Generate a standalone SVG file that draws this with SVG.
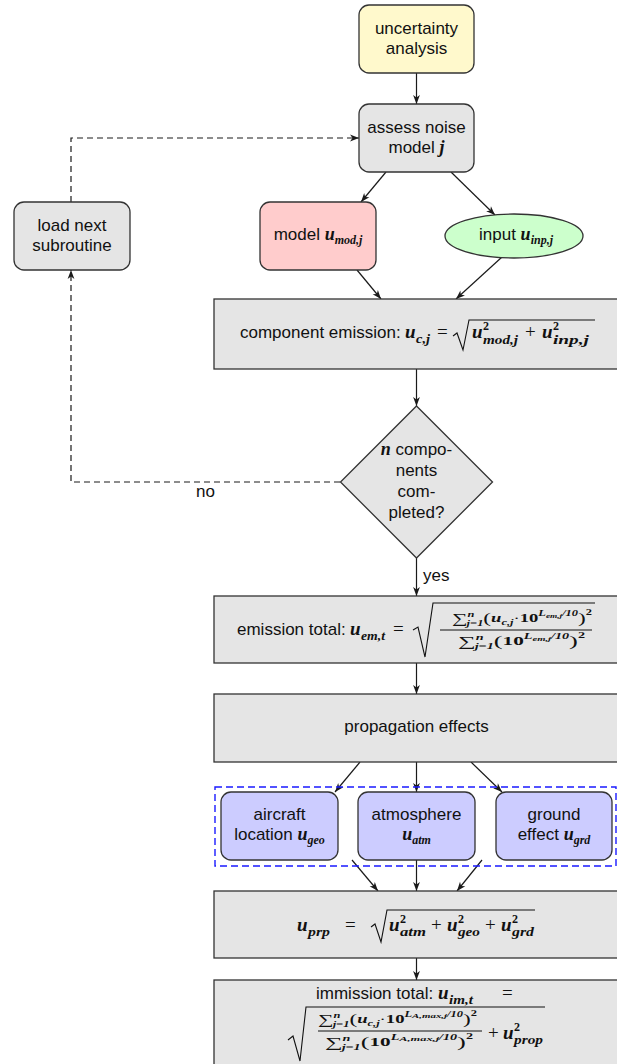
<svg xmlns="http://www.w3.org/2000/svg" width="617" height="1064" viewBox="0 0 617 1064">
<style>
.bx{stroke:#333;stroke-width:1.3}
.g{fill:#e5e5e5}
.t{font-family:"Liberation Sans",Arial,sans-serif;font-size:17px;fill:#111}
.c{text-anchor:middle}
.m{font-family:"Liberation Serif","Times New Roman",serif;font-style:italic;font-weight:bold;fill:#111}
.r{font-family:"Liberation Serif","Times New Roman",serif;font-style:normal;font-weight:normal;fill:#111}
.d{font-style:normal;font-weight:bold}
.ln{fill:none;stroke:#1a1a1a;stroke-width:1.2}
.dash{stroke-dasharray:6,4}
.rad{fill:none;stroke:#111;stroke-width:1.1}
.ahp{fill:#1a1a1a;stroke:none}
</style>
<defs>
<marker id="ah" markerWidth="10" markerHeight="8" refX="9" refY="4" orient="auto" markerUnits="userSpaceOnUse" overflow="visible">
<path class="ahp" d="M0,0.6 L9,4 L0,7.4 L2.5,4 z"/>
</marker>
</defs>

<g id="connectors">
<path class="ln" d="M416.5,73 V104" marker-end="url(#ah)"/>
<path class="ln" d="M386,172 L361,202" marker-end="url(#ah)"/>
<path class="ln" d="M451,172 L495,215" marker-end="url(#ah)"/>
<path class="ln" d="M357,270 L381,299" marker-end="url(#ah)"/>
<path class="ln" d="M502,257 L456,299" marker-end="url(#ah)"/>
<path class="ln" d="M416.5,369 V406" marker-end="url(#ah)"/>
<path class="ln" d="M416.5,558 V596" marker-end="url(#ah)"/>
<path class="ln dash" d="M340,482 H71 V270" marker-end="url(#ah)"/>
<path class="ln dash" d="M71,202 V138 H359" marker-end="url(#ah)"/>
<path class="ln" d="M416.5,663 V694" marker-end="url(#ah)"/>
<path class="ln" d="M360,762 L335,792" marker-end="url(#ah)"/>
<path class="ln" d="M416.5,762 V792" marker-end="url(#ah)"/>
<path class="ln" d="M471,762 L502,792" marker-end="url(#ah)"/>
<path class="ln" d="M352,860 L378,891" marker-end="url(#ah)"/>
<path class="ln" d="M416.5,860 V891" marker-end="url(#ah)"/>
<path class="ln" d="M482,860 L457,891" marker-end="url(#ah)"/>
<path class="ln" d="M416.5,958 V980" marker-end="url(#ah)"/>
<text class="t" x="423" y="581">yes</text>
<text class="t" x="196" y="497">no</text>
</g>

<g id="uncertainty">
<rect class="bx" x="359" y="5" width="115" height="68" rx="10" fill="#fff9cc"/>
<text class="t c" x="416.5" y="34">uncertainty</text>
<text class="t c" x="416.5" y="54">analysis</text>
</g>

<g id="assess">
<rect class="bx g" x="359" y="104" width="115" height="68" rx="10"/>
<text class="t c" x="416.5" y="133">assess noise</text>
<text class="t c" x="416.5" y="153">model <tspan class="m" font-size="18">j</tspan></text>
</g>

<g id="loadnext">
<rect class="bx g" x="14" y="202" width="116" height="68" rx="10"/>
<text class="t c" x="72" y="231">load next</text>
<text class="t c" x="72" y="251">subroutine</text>
</g>

<g id="model">
<rect class="bx" x="260" y="202" width="116" height="68" rx="10" fill="#ffcccc"/>
<text class="t c" x="318" y="240">model <tspan class="m" font-size="18">u</tspan><tspan class="m" font-size="12" dy="4">mod,j</tspan></text>
</g>

<g id="input">
<ellipse class="bx" cx="514" cy="236" rx="69" ry="22" fill="#ccffcc"/>
<text class="t c" x="516" y="240">input <tspan class="m" font-size="18">u</tspan><tspan class="m" font-size="12" dy="4">inp,j</tspan></text>
</g>

<g id="component">
<rect class="bx g" x="214" y="299" width="410" height="70"/>
<text class="t" x="240" y="338">component emission:</text>
<text class="m" x="405" y="338" font-size="19">u</text>
<text class="m" x="416" y="343" font-size="13" textLength="14" lengthAdjust="spacingAndGlyphs">c,j</text>
<text class="r" x="437" y="338" font-size="19">=</text>
<path class="rad" d="M453,336 L457,333 L463,350 L469,320 H595"/>
<text class="m" x="472" y="338" font-size="19">u</text>
<text class="m d" x="483" y="330" font-size="12">2</text>
<text class="m" x="483" y="344" font-size="13" textLength="35" lengthAdjust="spacingAndGlyphs">mod,j</text>
<text class="r" x="525" y="338" font-size="19">+</text>
<text class="m" x="542" y="338" font-size="19">u</text>
<text class="m d" x="553" y="330" font-size="12">2</text>
<text class="m" x="553" y="344" font-size="13" textLength="36" lengthAdjust="spacingAndGlyphs">inp,j</text>
</g>

<g id="decision">
<polygon class="bx g" points="416.5,406 492.5,482 416.5,558 340.5,482"/>
<text class="t c" x="416.5" y="455"><tspan class="m" font-size="18">n</tspan> compo-</text>
<text class="t c" x="416.5" y="476">nents</text>
<text class="t c" x="416.5" y="497">com-</text>
<text class="t c" x="416.5" y="518">pleted?</text>
</g>

<g id="emissiontotal">
<rect class="bx g" x="214" y="596" width="410" height="67"/>
<text class="t" x="237" y="635">emission total:</text>
<text class="m" x="350" y="635" font-size="19">u</text>
<text class="m" x="361" y="640" font-size="13" textLength="24" lengthAdjust="spacingAndGlyphs">em,t</text>
<text class="r" x="393" y="635" font-size="19">=</text>
<path class="rad" d="M413,630 L418,627 L425,657 L433,603 H595"/>
<line x1="440" y1="630" x2="592" y2="630" stroke="#111" stroke-width="1"/>
<text class="m" x="452" y="622" font-size="12" textLength="140" lengthAdjust="spacingAndGlyphs"><tspan class="r" font-size="14" dy="1">∑</tspan><tspan font-size="8" dy="-6">n</tspan><tspan font-size="8" dx="-5" dy="9">j=1</tspan><tspan class="r" font-size="15" dy="-3">(</tspan><tspan font-size="12" dy="-1">u</tspan><tspan font-size="8" dy="3">c,j</tspan><tspan class="r" font-size="12" dy="-3">·</tspan><tspan class="d" font-size="12">10</tspan><tspan font-size="8" dy="-6">L</tspan><tspan font-size="6" dy="2">em,j</tspan><tspan font-size="8" dy="-2">/10</tspan><tspan class="r" font-size="15" dy="7">)</tspan><tspan class="d" font-size="8" dy="-8">2</tspan></text>
<text class="m" x="458" y="645" font-size="12" textLength="127" lengthAdjust="spacingAndGlyphs"><tspan class="r" font-size="14" dy="1">∑</tspan><tspan font-size="8" dy="-6">n</tspan><tspan font-size="8" dx="-5" dy="9">j=1</tspan><tspan class="r" font-size="15" dy="-3">(</tspan><tspan class="d" font-size="12" dy="-1">10</tspan><tspan font-size="8" dy="-6">L</tspan><tspan font-size="6" dy="2">em,j</tspan><tspan font-size="8" dy="-2">/10</tspan><tspan class="r" font-size="15" dy="7">)</tspan><tspan class="d" font-size="8" dy="-8">2</tspan></text>
</g>

<g id="propagation">
<rect class="bx g" x="214" y="694" width="410" height="68"/>
<text class="t c" x="416.5" y="732">propagation effects</text>
</g>

<g id="group">
<rect x="215" y="787" width="401" height="79" fill="none" stroke="#1a1aff" stroke-width="1.4" stroke-dasharray="7,4"/>
</g>

<g id="aircraft">
<rect class="bx" x="221" y="792" width="117" height="68" rx="10" fill="#ccccff"/>
<text class="t c" x="279.5" y="820">aircraft</text>
<text class="t c" x="279.5" y="840">location <tspan class="m" font-size="18">u</tspan><tspan class="m" font-size="12" dy="4">geo</tspan></text>
</g>

<g id="atmosphere">
<rect class="bx" x="358" y="792" width="117" height="68" rx="10" fill="#ccccff"/>
<text class="t c" x="416.5" y="820">atmosphere</text>
<text class="c" x="416.5" y="840"><tspan class="m" font-size="18">u</tspan><tspan class="m" font-size="12" dy="4">atm</tspan></text>
</g>

<g id="ground">
<rect class="bx" x="496" y="792" width="116" height="68" rx="10" fill="#ccccff"/>
<text class="t c" x="554" y="820">ground</text>
<text class="t c" x="554" y="840">effect <tspan class="m" font-size="18">u</tspan><tspan class="m" font-size="12" dy="4">grd</tspan></text>
</g>

<g id="uprp">
<rect class="bx g" x="214" y="891" width="410" height="67"/>
<text class="m" x="297" y="931" font-size="19">u</text>
<text class="m" x="308" y="936" font-size="13" textLength="22" lengthAdjust="spacingAndGlyphs">prp</text>
<text class="r" x="345" y="931" font-size="19">=</text>
<path class="rad" d="M371,927 L375,924 L381,942 L387,910 H535"/>
<text class="m" x="389" y="931" font-size="19">u</text>
<text class="m d" x="400" y="923" font-size="12">2</text>
<text class="m" x="400" y="936" font-size="13" textLength="26" lengthAdjust="spacingAndGlyphs">atm</text>
<text class="r" x="431" y="931" font-size="19">+</text>
<text class="m" x="447" y="931" font-size="19">u</text>
<text class="m d" x="458" y="923" font-size="12">2</text>
<text class="m" x="458" y="936" font-size="13" textLength="22" lengthAdjust="spacingAndGlyphs">geo</text>
<text class="r" x="485" y="931" font-size="19">+</text>
<text class="m" x="501" y="931" font-size="19">u</text>
<text class="m d" x="512" y="923" font-size="12">2</text>
<text class="m" x="512" y="936" font-size="13" textLength="22" lengthAdjust="spacingAndGlyphs">grd</text>
</g>

<g id="immission">
<rect class="bx g" x="214" y="980" width="410" height="100"/>
<text class="t" x="316" y="999" font-size="16.5">immission total:</text>
<text class="m" x="438" y="999" font-size="19">u</text>
<text class="m" x="449" y="1004" font-size="13" textLength="24" lengthAdjust="spacingAndGlyphs">im,t</text>
<text class="r" x="502" y="999" font-size="19">=</text>
<path class="rad" d="M288,1040 L293,1036 L300,1061 L306,1007 H545"/>
<line x1="318" y1="1031" x2="482" y2="1031" stroke="#111" stroke-width="1"/>
<text class="m" x="318" y="1023" font-size="12" textLength="159" lengthAdjust="spacingAndGlyphs"><tspan class="r" font-size="14" dy="1">∑</tspan><tspan font-size="8" dy="-6">n</tspan><tspan font-size="8" dx="-5" dy="9">j=1</tspan><tspan class="r" font-size="15" dy="-3">(</tspan><tspan font-size="12" dy="-1">u</tspan><tspan font-size="8" dy="3">c,j</tspan><tspan class="r" font-size="12" dy="-3">·</tspan><tspan class="d" font-size="12">10</tspan><tspan font-size="8" dy="-6">L</tspan><tspan font-size="7" dy="1">A</tspan><tspan font-size="7">,max,j</tspan><tspan font-size="8" dy="-1">/10</tspan><tspan class="r" font-size="15" dy="7">)</tspan><tspan class="d" font-size="8" dy="-8">2</tspan></text>
<text class="m" x="325" y="1046" font-size="12" textLength="148" lengthAdjust="spacingAndGlyphs"><tspan class="r" font-size="14" dy="1">∑</tspan><tspan font-size="8" dy="-6">n</tspan><tspan font-size="8" dx="-5" dy="9">j=1</tspan><tspan class="r" font-size="15" dy="-3">(</tspan><tspan class="d" font-size="12" dy="-1">10</tspan><tspan font-size="8" dy="-6">L</tspan><tspan font-size="7" dy="1">A</tspan><tspan font-size="7">,max,j</tspan><tspan font-size="8" dy="-1">/10</tspan><tspan class="r" font-size="15" dy="7">)</tspan><tspan class="d" font-size="8" dy="-8">2</tspan></text>
<text class="r" x="488" y="1039" font-size="19">+</text>
<text class="m" x="503" y="1039" font-size="19">u</text>
<text class="m d" x="514" y="1031" font-size="12">2</text>
<text class="m" x="514" y="1044" font-size="13" textLength="29" lengthAdjust="spacingAndGlyphs">prop</text>
</g>
</svg>
